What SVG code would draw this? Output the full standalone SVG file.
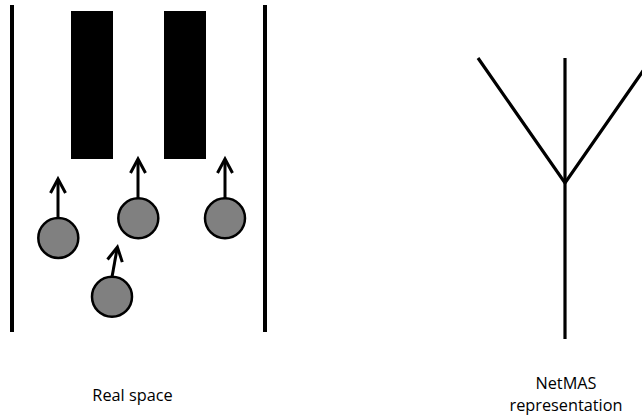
<svg xmlns="http://www.w3.org/2000/svg" width="642" height="419" viewBox="0 0 642 419">
<style>
.wall{stroke:#000;stroke-width:4;fill:none}
.block{fill:#000}
.person{fill:#808080;stroke:#000;stroke-width:2.5}
.mv{stroke:#000;stroke-width:3;fill:none}
.net{stroke:#000;stroke-width:3.2;fill:none;stroke-linecap:butt}
.lbl{font-family:"Open Sans","Liberation Sans",sans-serif;font-size:16.3px;fill:#000;text-anchor:middle}
</style>
<defs>
<marker id="chev" viewBox="0 0 20 20" refX="14" refY="10" markerWidth="20" markerHeight="20" markerUnits="userSpaceOnUse" orient="auto">
<path d="M1,2.5 L15,10 L1,17.5" fill="none" stroke="#000" stroke-width="3"/>
</marker>
</defs>
<g id="real-space">
<line class="wall" x1="12" y1="5" x2="12" y2="332"/>
<line class="wall" x1="265" y1="5" x2="265" y2="332"/>
<rect class="block" x="71" y="11" width="42" height="148"/>
<rect class="block" x="164" y="11" width="42" height="148"/>
<g id="arrows">
<line class="mv" x1="58" y1="218" x2="58" y2="180" marker-end="url(#chev)"/>
<line class="mv" x1="138" y1="198" x2="138" y2="160" marker-end="url(#chev)"/>
<line class="mv" x1="225" y1="198" x2="225" y2="160" marker-end="url(#chev)"/>
<line class="mv" x1="112" y1="277" x2="117.2" y2="248" marker-end="url(#chev)"/>
</g>
<circle id="p1" class="person" cx="58.3" cy="238" r="20"/>
<circle id="p2" class="person" cx="138.3" cy="218.3" r="20"/>
<circle id="p3" class="person" cx="225" cy="218.3" r="20"/>
<circle id="p4" class="person" cx="112" cy="296.7" r="20"/>
<text class="lbl" x="132.5" y="401">Real space</text>
</g>
<g id="netmas">
<line class="net" x1="565" y1="58" x2="565" y2="339"/>
<polyline class="net" points="478,58 565,183 652,58"/>
<text class="lbl" x="566" y="389">NetMAS</text>
<text class="lbl" x="566" y="411">representation</text>
</g>
</svg>
